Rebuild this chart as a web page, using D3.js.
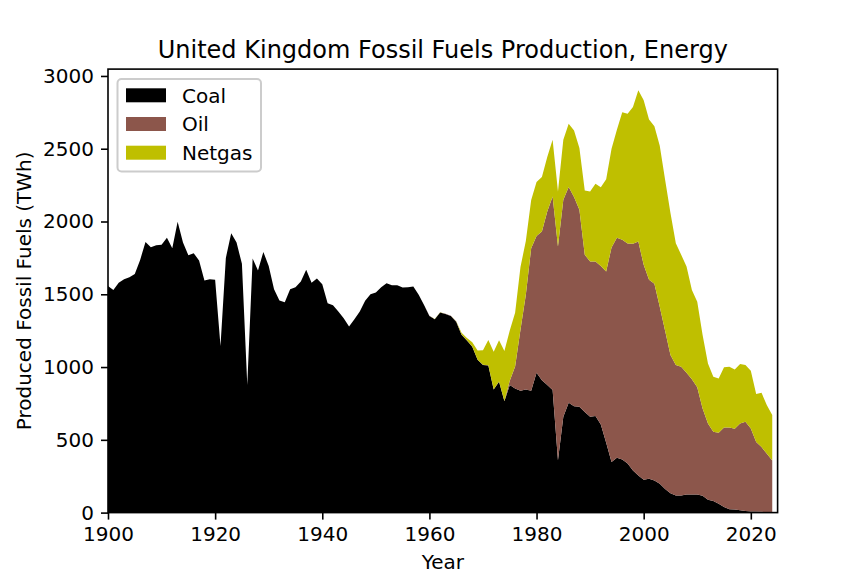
<!DOCTYPE html>
<html><head><meta charset="utf-8">
<script src="https://cdn.jsdelivr.net/npm/d3@7"></script>
<style>body{margin:0;background:#fff;} svg{display:block;font-family:"DejaVu Sans",sans-serif;}</style>
</head><body>
<svg id="c" width="864" height="576"></svg>
<script>
const startYear = 1900;
const coal = [
1557,1530,1580,1603,1617,1640,1736,1860,1823,1837,
1840,1888,1817,1998,1856,1769,1782,1732,1594,1603,
1599,1145,1750,1920,1856,1709,878,1746,1663,1791,
1695,1535,1458,1445,1535,1548,1587,1668,1580,1608,
1569,1438,1425,1381,1335,1278,1328,1381,1456,1500,
1512,1548,1576,1562,1562,1546,1548,1553,1496,1427,
1351,1328,1374,1365,1351,1312,1222,1183,1140,1050,
1014,1010,845,899,765,876,853,837,846,837,
961,910,876,842,360,658,754,731,727,692,
658,663,605,480,348,376,365,337,290,255,
225,232,221,198,163,133,117,117,124,124,
124,115,89,80,61,39,23,21,16,11,
7,7,5,4,3];
const oil = [
0,0,0,0,0,0,0,0,0,0,
0,0,0,0,0,0,0,0,0,0,
0,0,0,0,0,0,0,0,0,0,
0,0,0,0,0,0,0,0,0,0,
0,0,0,0,0,0,0,0,0,0,
0,0,0,0,0,0,0,0,0,0,
1,1,1,1,1,1,1,1,1,1,
1,2,2,2,2,30,150,420,650,980,
940,1021,1193,1330,1468,1491,1483,1437,1354,1079,
1067,1062,1090,1176,1474,1512,1509,1512,1557,1607,
1478,1367,1351,1217,1087,950,897,885,837,792,
737,601,523,475,487,546,562,555,596,613,
571,478,445,400,355];
const netgas = [
0,0,0,0,0,0,0,0,0,0,
0,0,0,0,0,0,0,0,0,0,
0,0,0,0,0,0,0,0,0,0,
0,0,0,0,0,0,0,0,0,0,
0,0,0,0,0,0,0,0,0,0,
0,0,0,0,0,0,0,0,0,0,
1,1,1,1,1,2,12,16,29,63,
100,174,258,284,343,345,370,430,370,330,
370,374,375,390,379,413,435,458,424,442,
482,534,541,634,678,743,876,892,940,1040,
1130,1101,1082,1106,1037,975,837,769,729,614,
588,504,413,378,374,413,417,408,409,390,
397,329,373,334,312];
const seriesNames = ["Coal","Oil","Netgas"];
const seriesColors = ["#000000","#8c564b","#bfbf00"];
const xTicks = [1900,1920,1940,1960,1980,2000,2020];
const yTicks = [0,500,1000,1500,2000,2500,3000];

const rows = coal.map((v,i)=>({year:startYear+i, Coal:v, Oil:oil[i], Netgas:netgas[i]}));
const L=108, R=777.6, T=69.1, B=512.6;
const FS = "20px";
const svg = d3.select("#c");
const x = d3.scaleLinear().domain([1900,2025]).range([L,R]);
const maxTot = d3.max(rows, d=>d.Coal+d.Oil+d.Netgas);
const y = d3.scaleLinear().domain([0, maxTot*1.05]).range([B,T]);
const stack = d3.stack().keys(seriesNames)(rows);
const area = d3.area().x(d=>x(d.data.year)).y0(d=>y(d[0])).y1(d=>y(d[1]));
svg.append("g").selectAll("path").data(stack).join("path")
  .attr("d", area).attr("fill",(d,i)=>seriesColors[i]).attr("stroke","none");

// axes
const xa = svg.append("g").attr("transform",`translate(0,${B})`)
  .call(d3.axisBottom(x).tickValues(xTicks).tickFormat(d3.format("d")).tickSize(7).tickPadding(7));
const ya = svg.append("g").attr("transform",`translate(${L},0)`)
  .call(d3.axisLeft(y).tickValues(yTicks).tickFormat(d3.format("d")).tickSize(7).tickPadding(7));
[xa,ya].forEach(a=>{
  a.select(".domain").remove();
  a.selectAll("line").attr("stroke","#000").attr("stroke-width",1.6);
  a.selectAll("text").attr("font-size",FS).attr("fill","#000").attr("font-family","DejaVu Sans");
});
svg.append("rect").attr("x",L).attr("y",T).attr("width",R-L).attr("height",B-T)
  .attr("fill","none").attr("stroke","#000").attr("stroke-width",1.6);

// labels
svg.append("text").attr("x",(L+R)/2).attr("y",57.5).attr("text-anchor","middle")
  .attr("font-size","24px").text("United Kingdom Fossil Fuels Production, Energy");
svg.append("text").attr("x",(L+R)/2).attr("y",569).attr("text-anchor","middle")
  .attr("font-size",FS).text("Year");
svg.append("text").attr("transform",`translate(31,${(T+B)/2}) rotate(-90)`).attr("text-anchor","middle")
  .attr("font-size",FS).text("Produced Fossil Fuels (TWh)");

// legend
const lg = svg.append("g");
lg.append("rect").attr("x",117.5).attr("y",79).attr("width",143.5).attr("height",92.5)
  .attr("rx",4).attr("fill","#fff").attr("fill-opacity",0.8).attr("stroke","#cccccc").attr("stroke-width",2);
seriesNames.forEach((n,i)=>{
  const cy = 95.3 + i*28.7;
  lg.append("rect").attr("x",126).attr("y",cy-7).attr("width",40).attr("height",14).attr("fill",seriesColors[i]);
  lg.append("text").attr("x",182).attr("y",cy+7.2).attr("font-size",FS).text(n);
});
</script>
</body></html>
